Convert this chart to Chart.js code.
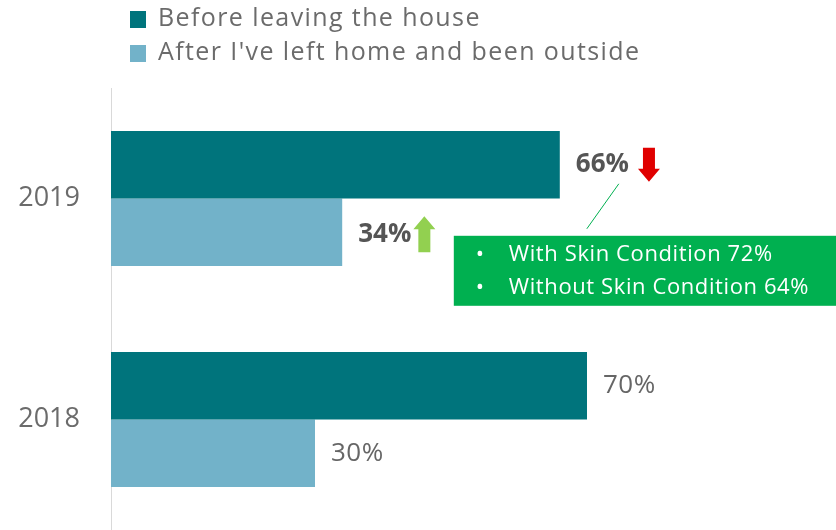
<!DOCTYPE html>
<html>
<head>
<meta charset="utf-8">
<script src="https://cdn.jsdelivr.net/npm/chart.js@4"></script>
<style>
  html, body { margin: 0; padding: 0; background: #fff; overflow: hidden; }
  canvas { display: block; }
</style>
</head>
<body>
<canvas id="chart" width="836" height="530"></canvas>
<script>
// data
const years = ["2019", "2018"];
const seriesNames = ["Before leaving the house", "After I've left home and been outside"];
const beforeLeaving = [66, 70];
const afterLeft = [34, 30];
const seriesColors = ["#00747C", "#72B2C9"];
const calloutLines = ["With Skin Condition 72%", "Without Skin Condition 64%"];
// change arrows for 2019: down for before, up for after
const trend2019 = ["down", "up"];

const FONT = "'Open Sans', 'Noto Sans', sans-serif";

function arrow(ctx, x, top, bottom, dir, color) {
  // simple block arrow, head 22px wide, shaft 12px
  const headH = 13;
  ctx.save();
  ctx.fillStyle = color;
  ctx.beginPath();
  if (dir === "down") {
    ctx.moveTo(x - 6, top);
    ctx.lineTo(x + 6, top);
    ctx.lineTo(x + 6, bottom - headH);
    ctx.lineTo(x + 11, bottom - headH);
    ctx.lineTo(x, bottom);
    ctx.lineTo(x - 11, bottom - headH);
    ctx.lineTo(x - 6, bottom - headH);
  } else {
    ctx.moveTo(x - 6, bottom);
    ctx.lineTo(x + 6, bottom);
    ctx.lineTo(x + 6, top + headH);
    ctx.lineTo(x + 11, top + headH);
    ctx.lineTo(x, top);
    ctx.lineTo(x - 11, top + headH);
    ctx.lineTo(x - 6, top + headH);
  }
  ctx.closePath();
  ctx.fill();
  ctx.restore();
}

const extras = {
  id: "extras",
  afterDatasetsDraw(chart) {
    const ctx = chart.ctx;
    ctx.save();

    // legend
    ctx.textBaseline = "middle";
    ctx.font = "25px " + FONT;
    seriesNames.forEach((name, i) => {
      const y = 19 + i * 34;
      ctx.fillStyle = seriesColors[i];
      ctx.fillRect(130, y - 8, 16, 17);
      ctx.fillStyle = "#6b6b6b";
      ctx.letterSpacing = "1.4px";
      ctx.fillText(name, 158, y);
    });
    ctx.letterSpacing = "0px";

    // value labels
    chart.data.datasets.forEach((ds, di) => {
      const meta = chart.getDatasetMeta(di);
      meta.data.forEach((bar, i) => {
        const bold = i === 0;
        ctx.font = (bold ? "bold " : "") + "26px " + FONT;
        ctx.fillStyle = bold ? "#555555" : "#666666";
        ctx.textAlign = "left";
        const txt = ds.data[i] + "%";
        const lx = bar.x + 16;
        const ly = bar.y + (bold && di === 1 ? 2 : 0);
        ctx.letterSpacing = bold ? "0px" : "0.5px";
        ctx.fillText(txt, lx, ly);
        ctx.letterSpacing = "0px";
        if (bold) {
          const w = ctx.measureText(txt).width;
          if (trend2019[di] === "down") {
            arrow(ctx, lx + w + 20, ly - 17, ly + 17, "down", "#E00000");
          } else {
            arrow(ctx, lx + w + 13, ly - 18, ly + 18, "up", "#92D050");
          }
        }
      });
    });

    // callout box tied to the 2019 "before" bar
    const ref = chart.getDatasetMeta(0).data[0];
    const bx = ref.x - 106, by = ref.y + 71;
    ctx.fillStyle = "#00B050";
    ctx.fillRect(bx, by, chart.width - bx, 70);
    ctx.strokeStyle = "#00B050";
    ctx.lineWidth = 1;
    ctx.beginPath();
    ctx.moveTo(ref.x + 59, ref.y + 19);
    ctx.lineTo(ref.x + 27, ref.y + 64);
    ctx.stroke();
    ctx.fillStyle = "#ffffff";
    ctx.font = "22px " + FONT;
    calloutLines.forEach((line, i) => {
      const y = by + 19 + i * 33;
      ctx.fillText("•", bx + 22, y);
      ctx.letterSpacing = "0.6px";
      ctx.fillText(line, bx + 55, y);
      ctx.letterSpacing = "0px";
    });

    ctx.restore();
  }
};

new Chart(document.getElementById("chart"), {
  type: "bar",
  data: {
    labels: years,
    datasets: [
      { label: seriesNames[0], data: beforeLeaving, backgroundColor: seriesColors[0] },
      { label: seriesNames[1], data: afterLeft, backgroundColor: seriesColors[1] }
    ]
  },
  options: {
    indexAxis: "y",
    responsive: false,
    animation: false,
    layout: { padding: { top: 88, right: 45, bottom: 0, left: 0 } },
    datasets: { bar: { categoryPercentage: 0.61, barPercentage: 1.0 } },
    plugins: {
      legend: { display: false },
      tooltip: { enabled: false }
    },
    scales: {
      x: { display: false, min: 0, max: 100 },
      y: {
        afterFit(axis) {
          axis.width = 111;
          axis.paddingTop = 0;
          axis.paddingBottom = 0;
        },
        grid: { display: false, drawTicks: false },
        border: { color: "#d9d9d9", width: 1 },
        ticks: {
          padding: 31,
          color: "#6b6b6b",
          font: { family: FONT, size: 27 }
        }
      }
    }
  },
  plugins: [extras]
});
</script>
</body>
</html>
